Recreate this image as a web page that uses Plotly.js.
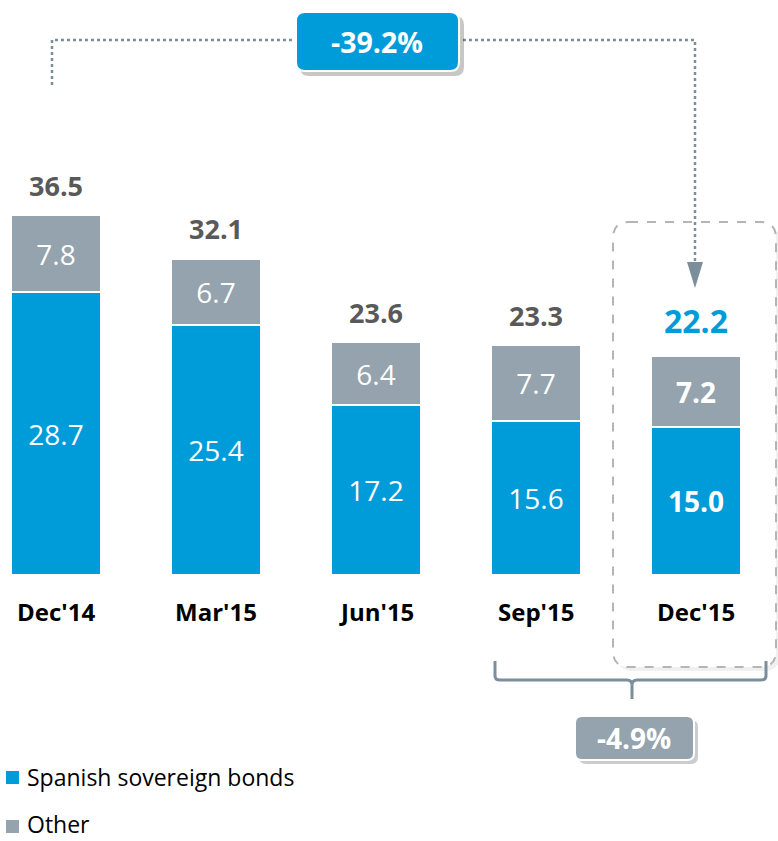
<!DOCTYPE html>
<html>
<head>
<meta charset="utf-8">
<script src="https://cdn.plot.ly/plotly-3.0.1.min.js"></script>
<style>html,body{margin:0;padding:0;background:#fff;}#chart{width:778px;height:841px;}</style>
</head>
<body>
<div id="chart"></div>
<script>
// ---- data ----
const categories = ["Dec'14", "Mar'15", "Jun'15", "Sep'15", "Dec'15"];
const spanishBonds = [28.7, 25.4, 17.2, 15.6, 15.0];
const other = [7.8, 6.7, 6.4, 7.7, 7.2];
const seriesNames = ["Spanish sovereign bonds", "Other"];
const changeYear = "-39.2%";
const changeQuarter = "-4.9%";

// ---- style ----
const W = 778, H = 841;
const FONT = "'Open Sans', 'Noto Sans', sans-serif";
const BLUE = "#009cd9";
const GREY = "#94a3ad";
const DARK = "#7b8f9b";
const totals = spanishBonds.map((v, i) => +(v + other[i]).toFixed(1));
const last = categories.length - 1;

const px = x => x / W;
const py = y => 1 - y / H;

function roundRect(x0, y0, x1, y1, r) {
  const X0 = px(x0), X1 = px(x1), Y0 = py(y0), Y1 = py(y1);
  const rx = r / W, ry = r / H;
  return `M${X0 + rx},${Y0} L${X1 - rx},${Y0} Q${X1},${Y0} ${X1},${Y0 - ry} ` +
         `L${X1},${Y1 + ry} Q${X1},${Y1} ${X1 - rx},${Y1} L${X0 + rx},${Y1} ` +
         `Q${X0},${Y1} ${X0},${Y1 + ry} L${X0},${Y0 - ry} Q${X0},${Y0} ${X0 + rx},${Y0} Z`;
}

const segText = arr => arr.map((v, i) => i === last ? '<b>' + v.toFixed(1) + '</b>' : v.toFixed(1));

const traces = [
  {
    type: 'bar', name: seriesNames[0], x: categories, y: spanishBonds,
    marker: {color: BLUE, line: {color: '#ffffff', width: 2}},
    text: segText(spanishBonds), textposition: 'inside', insidetextanchor: 'middle',
    textfont: {family: FONT, size: 28, color: '#ffffff'}, constraintext: 'none',
    hoverinfo: 'skip', showlegend: false
  },
  {
    type: 'bar', name: seriesNames[1], x: categories, y: other,
    marker: {color: GREY, line: {color: '#ffffff', width: 2}},
    text: segText(other), textposition: 'inside', insidetextanchor: 'middle',
    textfont: {family: FONT, size: 28, color: '#ffffff'}, constraintext: 'none',
    hoverinfo: 'skip', showlegend: false
  }
];

const annotations = [];
categories.forEach((c, i) => {
  annotations.push({
    x: c, y: totals[i], xref: 'x', yref: 'y', xanchor: 'center', yanchor: 'middle',
    yshift: i === last ? 36 : 30,
    text: '<b>' + totals[i].toFixed(1) + '</b>', showarrow: false,
    font: {family: FONT, size: i === last ? 32 : 27, color: i === last ? BLUE : '#595959'}
  });
  annotations.push({
    x: c, y: 0, xref: 'x', yref: 'y', xanchor: 'center', yanchor: 'middle', yshift: -36,
    text: '<b>' + c + '</b>', showarrow: false,
    font: {family: FONT, size: 24, color: '#000000'}
  });
});

// change boxes text
annotations.push({x: px(377), y: py(42), xref: 'paper', yref: 'paper', xanchor: 'center', yanchor: 'middle',
  text: '<b>' + changeYear + '</b>', showarrow: false, font: {family: FONT, size: 28.5, color: '#ffffff'}});
annotations.push({x: px(634), y: py(738), xref: 'paper', yref: 'paper', xanchor: 'center', yanchor: 'middle',
  text: '<b>' + changeQuarter + '</b>', showarrow: false, font: {family: FONT, size: 28, color: '#ffffff'}});

// legend
const legendColors = [BLUE, GREY];
const legendY = [777, 826];
const shapes = [];
seriesNames.forEach((n, i) => {
  const isLast = i === seriesNames.length - 1;
  annotations.push({x: px(26), y: isLast ? 0 : py(legendY[i]), xref: 'paper', yref: 'paper', xanchor: 'left',
    yanchor: isLast ? 'bottom' : 'middle',
    text: n, showarrow: false, borderpad: 0, font: {family: FONT, size: 23, color: '#000000'}});
  shapes.push({type: 'rect', xref: 'paper', yref: 'paper', x0: px(6), x1: px(19),
    y0: py(legendY[i] + 7), y1: py(legendY[i] - 6), fillcolor: legendColors[i], line: {width: 0}});
});

// dotted connector
shapes.push({type: 'path', xref: 'paper', yref: 'paper',
  path: `M${px(52)},${py(85)} L${px(52)},${py(40)} L${px(695)},${py(40)} L${px(695)},${py(262)}`,
  line: {color: DARK, width: 2.5, dash: 'dot'}});
shapes.push({type: 'path', xref: 'paper', yref: 'paper',
  path: `M${px(687)},${py(262)} L${px(703)},${py(262)} L${px(695)},${py(288)} Z`,
  fillcolor: DARK, line: {width: 0}});

// blue change box with shadow
shapes.push({type: 'path', xref: 'paper', yref: 'paper', path: roundRect(300, 16, 464, 76, 9),
  fillcolor: 'rgba(0,0,0,0.22)', line: {width: 0}});
shapes.push({type: 'path', xref: 'paper', yref: 'paper', path: roundRect(296, 12, 459, 71, 9),
  fillcolor: BLUE, line: {color: '#ffffff', width: 2}});

// dashed highlight around last bar
shapes.push({type: 'path', xref: 'paper', yref: 'paper', path: roundRect(617, 226, 780, 671, 16),
  fillcolor: 'rgba(0,0,0,0.06)', line: {width: 0}, layer: 'below'});
shapes.push({type: 'path', xref: 'paper', yref: 'paper', path: roundRect(613, 222, 776, 667, 16),
  fillcolor: '#ffffff', line: {color: '#b5b5b5', width: 2, dash: 'dash'}, layer: 'below'});

// bracket
shapes.push({type: 'path', xref: 'paper', yref: 'paper',
  path: `M${px(495)},${py(661)} L${px(495)},${py(676)} Q${px(495)},${py(680)} ${px(500)},${py(680)} ` +
        `L${px(627)},${py(680)} Q${px(632)},${py(680)} ${px(632)},${py(685)} L${px(632)},${py(699)} ` +
        `M${px(632)},${py(685)} Q${px(632)},${py(680)} ${px(637)},${py(680)} L${px(761)},${py(680)} ` +
        `Q${px(766)},${py(680)} ${px(766)},${py(676)} L${px(766)},${py(661)}`,
  line: {color: DARK, width: 3}});

// grey change box with shadow
shapes.push({type: 'path', xref: 'paper', yref: 'paper', path: roundRect(579, 720, 698, 764, 7),
  fillcolor: 'rgba(0,0,0,0.2)', line: {width: 0}});
shapes.push({type: 'path', xref: 'paper', yref: 'paper', path: roundRect(575, 716, 694, 760, 7),
  fillcolor: GREY, line: {color: '#ffffff', width: 2}});

const layout = {
  width: W, height: H,
  margin: {l: 0, r: 0, t: 0, b: 0},
  paper_bgcolor: '#ffffff', plot_bgcolor: 'rgba(0,0,0,0)',
  barmode: 'stack', bargap: 0.44,
  showlegend: false,
  font: {family: FONT},
  xaxis: {type: 'category', range: [-0.35, 4.5125], showgrid: false, zeroline: false,
    showline: false, showticklabels: false, fixedrange: true},
  yaxis: {range: [-26.98, 58.32], showgrid: false, zeroline: false, showline: false,
    showticklabels: false, fixedrange: true},
  annotations: annotations,
  shapes: shapes
};

Plotly.newPlot('chart', traces, layout, {displayModeBar: false, staticPlot: true});
</script>
</body>
</html>
